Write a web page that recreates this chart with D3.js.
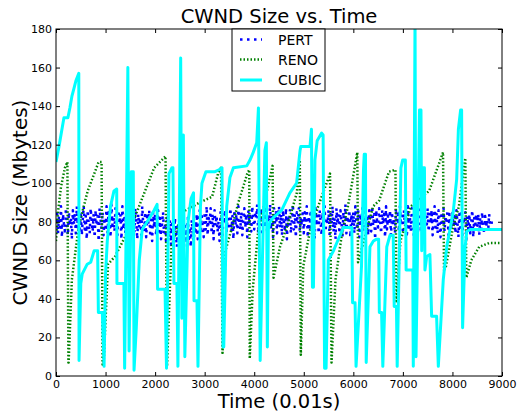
<!DOCTYPE html>
<html>
<head>
<meta charset="utf-8">
<script src="https://cdn.jsdelivr.net/npm/d3@7"></script>
<style>
body { margin: 0; background: #fff; }
text { font-family: "DejaVu Sans", sans-serif; }
</style>
</head>
<body>
<svg id="chart" width="520" height="411"></svg>
<script>
// CUBIC: time (0.01s) / cwnd pairs
var cubicT = [0, 60, 120, 160, 240, 280, 320, 360, 400, 460, 465, 500, 530, 630, 700, 770, 840, 855, 935, 970,
    1000, 1035, 1100, 1170, 1225, 1230, 1370, 1385, 1450, 1475, 1520, 1560, 1575, 1620, 1680, 1740, 1840, 1980, 2040, 2050, 2200, 2230,
    2280, 2340, 2360, 2380, 2440, 2460, 2516, 2540, 2570, 2600, 2665, 2725, 2775, 2785, 2845, 2865, 2915, 2945, 3025, 3210, 3290, 3350, 3370,
    3385, 3445, 3510, 3580, 3850, 3915, 3980, 4050, 4085, 4120, 4215, 4245, 4265, 4285, 4320, 4380, 4555, 4720, 4855, 4925, 4940, 5125,
    5155, 5175, 5195, 5225, 5270, 5360, 5390, 5420,
    5450, 5495, 5600, 5665, 5800, 5970, 5985, 6035, 6055, 6165, 6205, 6220, 6245, 6260, 6335, 6405, 6470, 6510, 6525, 6570, 6595,
    6675, 6740, 6805, 6825, 6870, 6885, 6960, 6995, 7050, 7065, 7200, 7210, 7245, 7265, 7335, 7365, 7380, 7400, 7435, 7445, 7480,
    7545, 7580, 7680, 7715, 7815, 7885, 7950, 8015, 8085, 8120, 8165, 8185, 8205, 8255, 8290, 8355, 9000];
var cubicV = [111, 119, 128, 134, 134, 139, 145, 149, 153, 157, 8, 48, 53, 58, 59, 65, 65, 33, 33, 5,
    53, 70, 88, 96, 97, 48, 48, 4, 160, 13, 106, 106, 3, 25, 60, 76, 80, 86, 89, 45, 45, 4,
    105, 108, 108, 48, 48, 5, 165, 30, 125, 10, 80, 92, 95, 39, 39, 5, 88, 100, 106, 106, 107, 108, 15,
    15, 88, 103, 108, 109, 112, 116, 121, 139, 8, 117, 121, 15, 76, 80, 82, 86, 95, 100, 117, 119, 119,
    128, 46, 46, 112, 122, 126, 125, 4,
    4, 60, 65, 69, 77, 77, 38, 38, 5, 57, 107, 115, 115, 7, 67, 70, 71, 71, 33, 33, 5,
    67, 73, 73, 36, 36, 5, 108, 112, 112, 55, 55, 5, 186, 10, 138, 138, 65, 108, 108, 55, 62,
    63, 31, 31, 5, 50, 67, 76, 85, 102, 128, 138, 138, 25, 67, 75, 76, 76];

// RENO sawtooth
var renoT = [0, 40, 100, 180, 230, 250, 255, 320, 460, 640, 860, 920, 940,
    960, 1050, 1190, 1570, 1980, 2210, 2240, 2330, 2550, 2900, 3150, 3270, 3330, 3360,
    3420, 3550, 3680, 3860, 3900, 3910, 3970, 4080, 4250, 4370, 4390, 4520, 4680, 4860, 4920, 4940,
    4990, 5130, 5290, 5530, 5560, 5640, 5760, 5890, 5960, 6080, 6095, 6400, 6520, 6720, 6850, 6870,
    6950, 7160, 7530, 7810, 7830, 7870, 8010, 8130, 8260, 8280, 8380, 8540, 8740, 8950];
var renoV = [70, 85, 98, 108, 111, 7, 7, 50, 78, 96, 111, 111, 6,
    6, 58, 62, 81, 108, 114, 5, 67, 85, 90, 93, 105, 108, 12,
    65, 77, 90, 105, 107, 9, 45, 75, 95, 109, 51, 67, 79, 95, 112, 11,
    57, 76, 88, 105, 7, 50, 72, 88, 98, 116, 59, 88, 91, 106, 107, 38,
    70, 88, 96, 116, 55, 57, 77, 88, 113, 51, 60, 67, 69, 69];

// PERT, one sample every 20 time units from 0 to 8800
var pertStep = 20;
var pertV = [
    80,86,74,83,77,88,72,84,79,75,87,81,73,85,78,82,71,86,79,84,74,88,77,82,76,
    85,73,81,88,76,83,71,86,79,74,87,80,75,84,72,86,78,83,70,87,81,76,85,73,82,
    77,88,74,85,80,72,89,78,83,75,87,81,73,86,79,84,71,88,76,82,74,87,80,85,78,
    83,72,86,78,74,87,80,71,84,77,82,73,88,79,75,85,72,83,78,86,74,81,70,85,77,
    84,73,80,86,75,82,71,79,85,74,78,70,83,76,72,81,68,79,74,70,82,73,67,78,71,
    76,68,80,72,66,78,74,69,82,71,77,67,81,73,70,79,75,84,71,80,86,74,83,77,72,
    85,76,88,73,82,79,87,74,84,71,86,78,83,75,80,70,85,77,72,84,79,86,74,82,76,
    80,87,75,83,71,86,78,84,74,88,80,76,85,73,82,87,77,84,72,86,79,83,75,88,81,
    76,85,82,89,74,84,79,87,73,86,81,77,88,75,83,80,89,76,84,72,87,79,85,74,83,
    88,77,84,73,86,80,75,87,71,83,78,86,74,82,89,76,84,72,85,79,87,75,82,78,86,
    74,85,79,88,72,83,77,86,75,84,80,71,87,78,83,74,86,80,73,85,77,88,75,82,79,
    86,73,84,78,88,75,82,71,87,79,84,74,86,80,72,85,77,89,74,83,79,86,72,84,78,
    85,74,88,80,76,86,72,84,79,87,75,83,89,77,82,73,86,80,75,88,78,84,71,86,80,
    77,87,81,74,86,79,84,72,88,76,83,80,86,73,85,78,82,74,87,79,84,75,88,80,83,
    74,86,79,84,72,88,77,83,75,87,80,73,85,78,86,74,82,88,76,84,71,86,79,83,77,
    87,75,84,79,86,73,82,88,77,84,74,86,80,72,85,78,87,75,83,79,86,73,84,80,76,
    85,78,83,74,86,80,72,84,77,86,73,82,79,85,71,83,76,84,74,80,86,72,82,77,84,
    78,84,73,82,76,85,79,74,83,77,81,75,84,79,76,82];

var xTicks = [0, 1000, 2000, 3000, 4000, 5000, 6000, 7000, 8000, 9000];
var yTicks = [0, 20, 40, 60, 80, 100, 120, 140, 160, 180];
var seriesNames = ["PERT", "RENO", "CUBIC"];

var plotL = 56, plotR = 502, plotT = 29, plotB = 376;

var svg = d3.select("#chart");
var x = d3.scaleLinear().domain([0, 9000]).range([plotL, plotR]);
var y = d3.scaleLinear().domain([0, 180]).range([plotB, plotT]);

svg.append("defs").append("clipPath").attr("id", "plotclip")
    .append("rect")
    .attr("x", plotL).attr("y", plotT)
    .attr("width", plotR - plotL).attr("height", plotB - plotT);

var line = d3.line()
    .x(function(d) { return x(d[0]); })
    .y(function(d) { return y(d[1]); });

var pertData = pertV.map(function(v, i) { return [i * pertStep, v]; });
var renoData = renoT.map(function(t, i) { return [t, renoV[i]]; });
var cubicData = cubicT.map(function(t, i) { return [t, cubicV[i]]; });

var styles = {
    PERT: { color: "#0000ff", width: 2.5, dash: "2.5,4.5" },
    RENO: { color: "#008000", width: 2.5, dash: "1.5,2" },
    CUBIC: { color: "#00ffff", width: 3, dash: null }
};

var plot = svg.append("g").attr("clip-path", "url(#plotclip)");
[[pertData, "PERT"], [renoData, "RENO"], [cubicData, "CUBIC"]].forEach(function(s) {
    var st = styles[s[1]];
    plot.append("path")
        .datum(s[0])
        .attr("d", line)
        .attr("fill", "none")
        .attr("stroke", st.color)
        .attr("stroke-width", st.width)
        .attr("stroke-dasharray", st.dash)
        .attr("stroke-linejoin", "round");
});

// axes, ticks pointing inwards on all four sides
var fmt = d3.format("d");
svg.append("g")
    .attr("transform", "translate(0," + plotB + ")")
    .call(d3.axisBottom(x).tickValues(xTicks).tickFormat(fmt).tickSizeInner(-4).tickSizeOuter(0).tickPadding(4.5));
svg.append("g")
    .attr("transform", "translate(" + plotL + ",0)")
    .call(d3.axisLeft(y).tickValues(yTicks).tickFormat(fmt).tickSizeInner(-4).tickSizeOuter(0).tickPadding(4));
svg.append("g")
    .attr("transform", "translate(0," + plotT + ")")
    .call(d3.axisTop(x).tickValues(xTicks).tickSizeInner(-4).tickSizeOuter(0).tickFormat(""));
svg.append("g")
    .attr("transform", "translate(" + plotR + ",0)")
    .call(d3.axisRight(y).tickValues(yTicks).tickSizeInner(-4).tickSizeOuter(0).tickFormat(""));

svg.selectAll(".domain").remove();
svg.selectAll(".tick text")
    .attr("font-size", 11)
    .attr("font-family", "DejaVu Sans, sans-serif")
    .attr("fill", "#000");
svg.selectAll(".tick line").attr("stroke", "#000");

svg.append("rect")
    .attr("x", plotL).attr("y", plotT)
    .attr("width", plotR - plotL).attr("height", plotB - plotT)
    .attr("fill", "none").attr("stroke", "#000").attr("stroke-width", 1);

// titles
svg.append("text")
    .attr("x", (plotL + plotR) / 2).attr("y", 23)
    .attr("text-anchor", "middle").attr("font-size", 19.5)
    .text("CWND Size vs. Time");
svg.append("text")
    .attr("x", (plotL + plotR) / 2).attr("y", 407.5)
    .attr("text-anchor", "middle").attr("font-size", 19.5)
    .text("Time (0.01s)");
svg.append("text")
    .attr("transform", "translate(27," + ((plotT + plotB) / 2) + ") rotate(-90)")
    .attr("text-anchor", "middle").attr("font-size", 20)
    .text("CWND Size (Mbytes)");

// legend
var legend = svg.append("g");
legend.append("rect")
    .attr("x", 232).attr("y", plotT)
    .attr("width", 93).attr("height", 62)
    .attr("fill", "#fff").attr("stroke", "#000").attr("stroke-width", 1);
var legendY = [39.5, 59.5, 80];
seriesNames.forEach(function(name, i) {
    var st = styles[name];
    legend.append("line")
        .attr("x1", 240).attr("x2", 262)
        .attr("y1", legendY[i]).attr("y2", legendY[i])
        .attr("stroke", st.color)
        .attr("stroke-width", st.width)
        .attr("stroke-dasharray", st.dash);
    legend.append("text")
        .attr("x", 278).attr("y", legendY[i])
        .attr("dy", "0.36em").attr("font-size", 14)
        .text(name);
});
</script>
</body>
</html>
